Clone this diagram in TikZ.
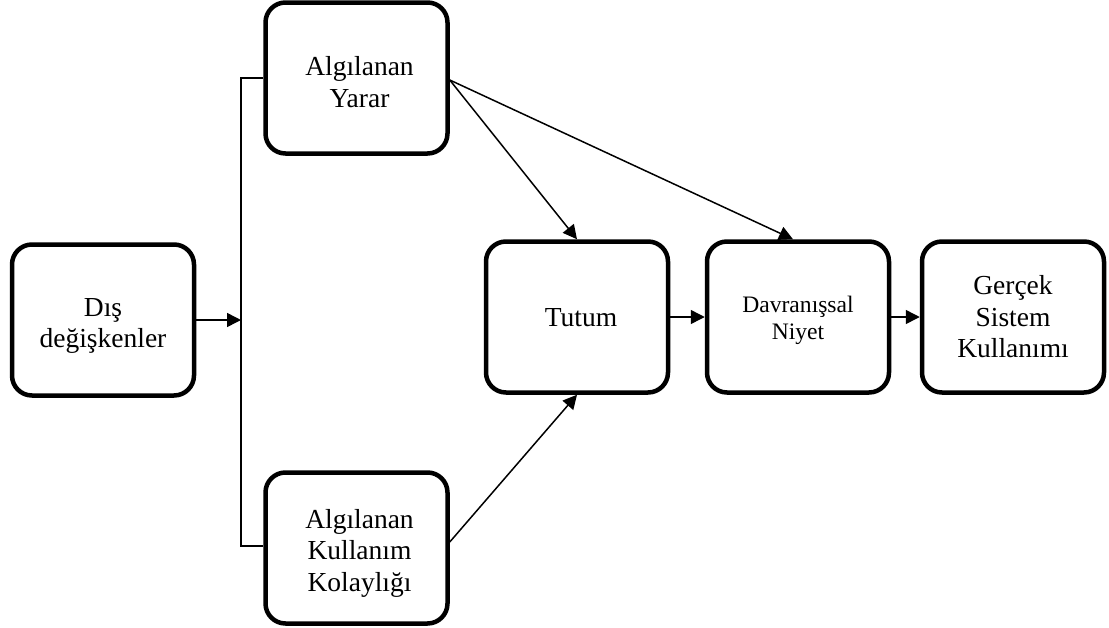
\documentclass[tikz,border=0pt]{standalone}
\usepackage{fontspec}
\setmainfont{Liberation Serif}
\usetikzlibrary{arrows.meta}
\begin{document}
\begin{tikzpicture}[x=1pt,y=-1pt,
  box/.style={draw, line width=4.5pt, rounded corners=20pt,
    minimum width=182pt, minimum height=151pt, inner sep=0pt},
  txt/.style={align=center, inner sep=0pt, font=\fontsize{27.5}{31.5}\selectfont},
  smalltxt/.style={txt, font=\fontsize{23.6}{27}\selectfont},
  conn/.style={line width=1.5pt},
  arr/.style={conn, -{Triangle[length=14pt,width=14pt]}}]
\useasboundingbox (0,0) rectangle (1109,627);

% model constructs
\node[box] (ext)  at (103,320)   {};
\node[box] (pu)   at (356.5,78)  {};
\node[box] (peou) at (356.5,548) {};
\node[box] (att)  at (577,317)   {};
\node[box] (bi)   at (798,317)   {};
\node[box] (use)  at (1013,317)  {};

% their labels
\node[txt] (ext-t)  at ([shift={(0,6)}]ext.center)  {Dış\\değişkenler};
\node[txt] (pu-t)   at ([shift={(3,4)}]pu.center)   {Algılanan\\Yarar};
\node[txt] (peou-t) at ([shift={(3,5)}]peou.center) {Algılanan\\Kullanım\\Kolaylığı};
\node[txt] (att-t)  at ([shift={(4,1)}]att.center)  {Tutum};
\node[smalltxt] (bi-t) at ([shift={(0,3)}]bi.center) {Davranışsal\\Niyet};
\node[txt] (use-t)  at (use.center) {Gerçek\\Sistem\\Kullanımı};

% bracket joining the two perception constructs
\coordinate (bt) at (241,78);
\coordinate (bb) at (241,546);
\draw[conn] (pu.west) -- (bt) -- (bb) -- (peou.west |- bb);
\draw[arr] (ext.east) -- (ext.east -| bt);

% paths between constructs
\draw[arr] ([yshift=-2pt]pu.east) -- (att.north);
\draw[arr] ([yshift=-2pt]pu.east) -- ([xshift=-5pt]bi.north);
\draw[arr] ([yshift=6pt]peou.east) -- (att.south);
\draw[arr] (att.east) -- (bi.west);
\draw[arr] (bi.east) -- (use.west);
\end{tikzpicture}
\end{document}
